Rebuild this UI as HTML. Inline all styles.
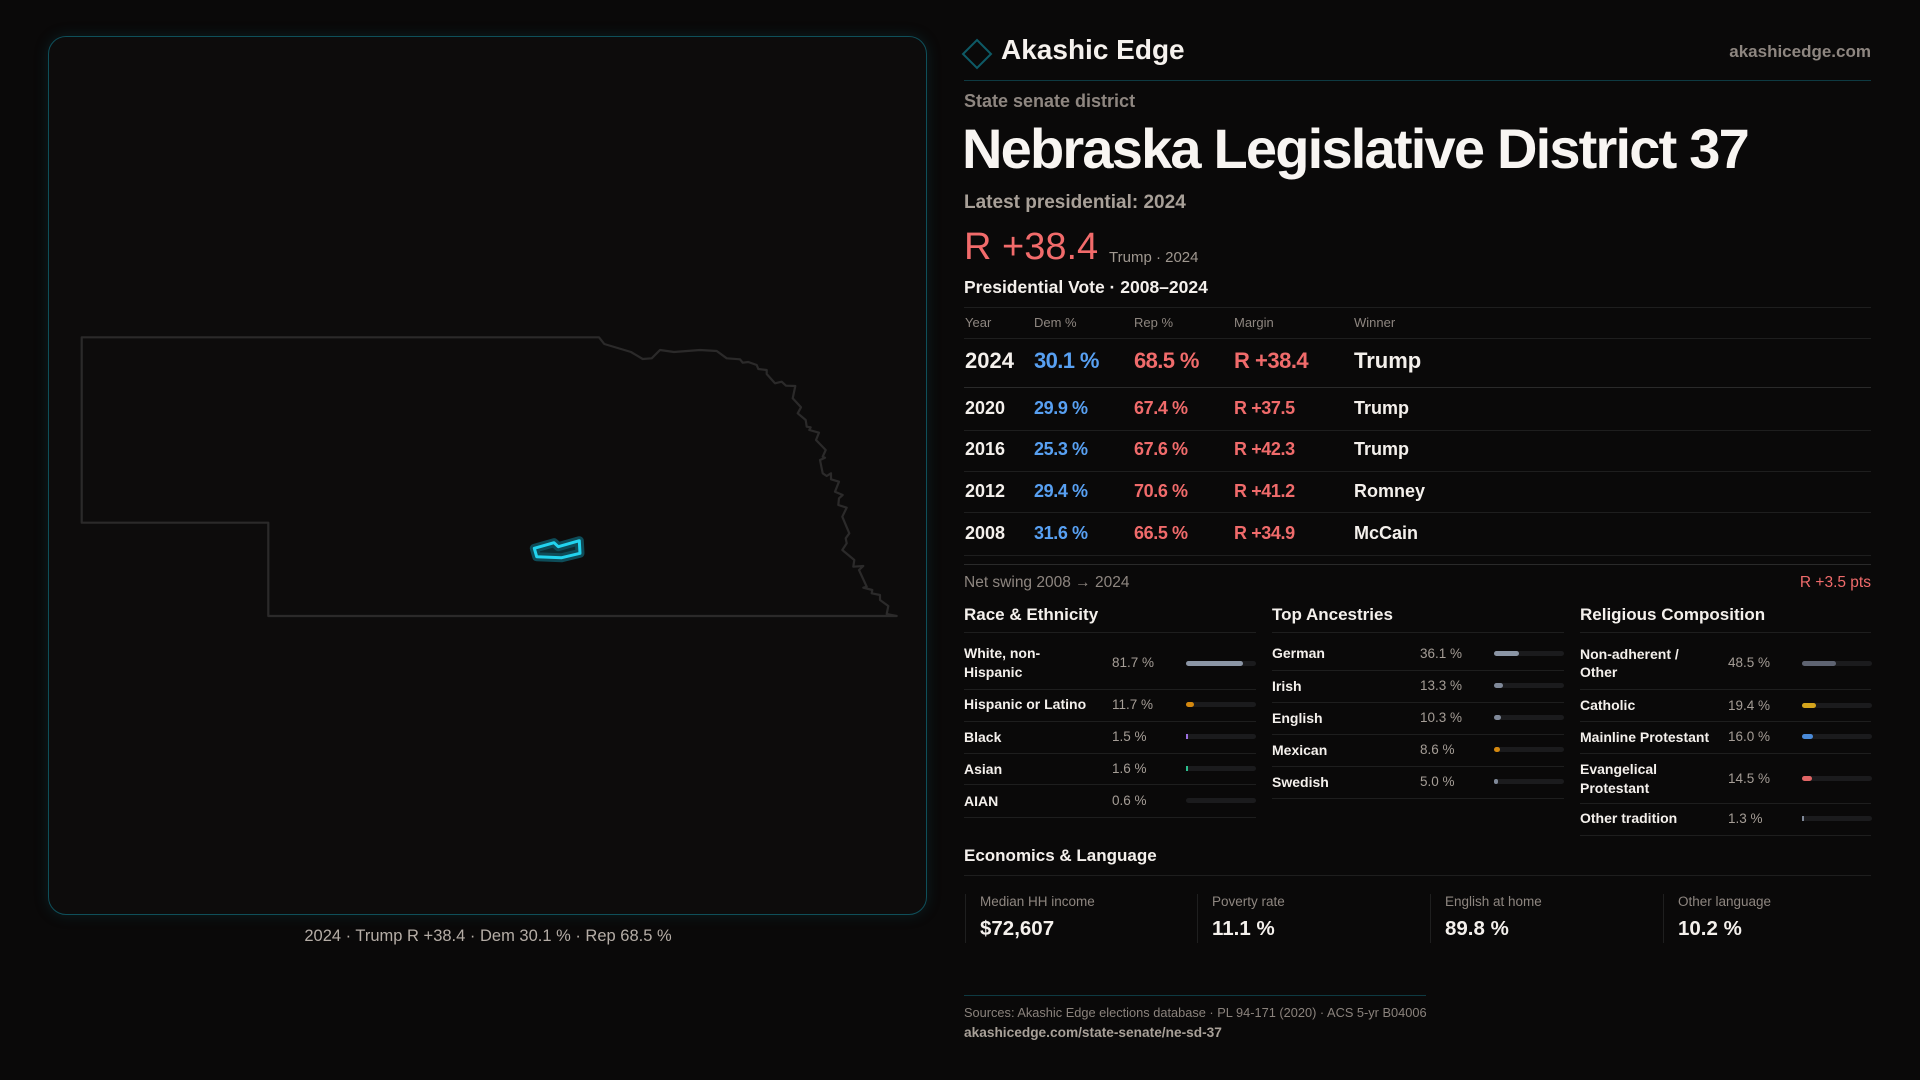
<!DOCTYPE html>
<html>
<head>
<meta charset="utf-8">
<style>
  html,body{margin:0;padding:0;}
  body{width:1920px;height:1080px;background:#0a0909;position:relative;overflow:hidden;font-family:"Liberation Sans",sans-serif;color:#f4f0ec;}
  .t{position:absolute;white-space:nowrap;line-height:1;}
  .b{font-weight:bold;}
  .g{color:#8e8680;}
  .v{color:#a59d96;}
  .red{color:#f06b6b;}
  .blue{color:#58a0f2;}
  .rule{position:absolute;height:1px;background:#1e1e1e;}
  .track{position:absolute;width:70px;height:5px;border-radius:3px;background:#1b1b1d;}
  .fill{position:absolute;left:0;top:0;height:5px;border-radius:3px;}
  .panel{position:absolute;left:48px;top:36px;width:877px;height:877px;border:1px solid #0f4f5a;border-radius:18px;background:#0d0c0c;box-shadow:0 0 14px rgba(16,90,105,0.25);}
  .box{position:absolute;top:894px;height:49px;width:1px;background:#1f1f1f;}
</style>
</head>
<body>

<div class="panel"></div>
<svg width="960" height="1080" style="position:absolute;left:0;top:0;">
  <path d="M81.7,337.3 L599,337.3 L604.3,344 L631,352 L642.7,359 L651.7,358.3 L660,350 L674,352 L700,350 L716.7,351 L726.7,358.3 L740,359.3 L742.7,362.7 L748.3,362 L756.7,365 L758.3,369 L766.7,370 L766.7,374 L775,383.3 L781.7,381.7 L786,385.7 L795.3,386 L792.7,398.3 L801,407.3 L797.7,413.3 L805.7,420 L806.7,426.7 L810.7,427.3 L809.3,430 L819,432.7 L816,440 L825.7,450 L822.7,456.7 L825,457.7 L820,460 L822.7,473.3 L826.7,476 L831,473.3 L831,479.3 L839,481.7 L835,491.7 L842.7,495 L839,498.3 L838.3,505 L846.7,507.7 L842.3,516.7 L849.3,533.3 L845.7,538.3 L846.7,543.3 L842.3,550 L854.3,560 L853.3,566.7 L863.3,566 L859,570 L866.7,586.7 L863.3,587.7 L872.3,590 L871.7,593.3 L880,595 L880,600 L888.3,606 L886.7,614 L896.7,616 L268.3,616 L268.3,522.7 L81.7,522.7 Z" fill="none" stroke="#2b2a2a" stroke-width="2.2" stroke-linejoin="round"/>
  <polygon points="534.3,548.3 536.7,556.7 561.7,557.7 580,553.3 579.3,540.7 558.3,546.7 554,542.7" fill="#0c2b31" stroke="#0e4c58" stroke-width="9" stroke-linejoin="round"/>
  <polygon points="534.3,548.3 536.7,556.7 561.7,557.7 580,553.3 579.3,540.7 558.3,546.7 554,542.7" fill="none" stroke="#22d3ee" stroke-width="3" stroke-linejoin="round"/>
</svg>
<div class="t" style="left:0;width:976px;text-align:center;top:928px;font-size:16.5px;color:#b5ada6;">2024 · Trump R +38.4 · Dem 30.1 % · Rep 68.5 %</div>

<!-- Header -->
<svg width="34" height="34" style="position:absolute;left:960px;top:37px;">
  <polygon points="17,3 31,17 17,31 3,17" fill="none" stroke="#0e5a66" stroke-width="2"/>
</svg>
<div class="t b" style="left:1001px;top:36px;font-size:28px;color:#f6f2ee;">Akashic Edge</div>
<div class="t b" style="right:49px;top:43px;font-size:17px;color:#8e8680;">akashicedge.com</div>
<div class="rule" style="left:964px;top:80px;width:907px;background:#0e3a42;"></div>

<div class="t b g" style="left:964px;top:92px;font-size:18px;">State senate district</div>
<div class="t b" style="left:962px;top:121px;font-size:56px;letter-spacing:-1.8px;color:#f8f5f2;">Nebraska Legislative District 37</div>
<div class="t b" style="left:964px;top:193px;font-size:19px;color:#a8a098;">Latest presidential: 2024</div>
<div class="t red" style="left:964px;top:228px;font-size:38px;color:#f26b6b;">R +38.4</div>
<div class="t" style="left:1109px;top:250px;font-size:15px;color:#a09890;">Trump · 2024</div>
<div class="t b" style="left:964px;top:279px;font-size:17.5px;">Presidential Vote · 2008–2024</div>
<div class="rule" style="left:964px;top:307px;width:907px;"></div>

<!-- Table -->
<div class="t g" style="left:965px;top:316px;font-size:13px;">Year</div>
<div class="t g" style="left:1034px;top:316px;font-size:13px;">Dem %</div>
<div class="t g" style="left:1134px;top:316px;font-size:13px;">Rep %</div>
<div class="t g" style="left:1234px;top:316px;font-size:13px;">Margin</div>
<div class="t g" style="left:1354px;top:316px;font-size:13px;">Winner</div>
<div class="rule" style="left:964px;top:338px;width:907px;"></div>

<div class="t b" style="left:965px;top:350px;font-size:22px;">2024</div>
<div class="t b blue" style="left:1034px;top:350px;font-size:22px;letter-spacing:-0.6px;">30.1 %</div>
<div class="t b red" style="left:1134px;top:350px;font-size:22px;letter-spacing:-0.6px;">68.5 %</div>
<div class="t b red" style="left:1234px;top:350px;font-size:22px;letter-spacing:-0.5px;">R +38.4</div>
<div class="t b" style="left:1354px;top:350px;font-size:22px;">Trump</div>
<div class="rule" style="left:964px;top:387px;width:907px;background:#2a2a2a;"></div>

<div class="t b" style="left:965px;top:399px;font-size:18px;">2020</div>
<div class="t b blue" style="left:1034px;top:399px;font-size:18px;letter-spacing:-0.4px;">29.9 %</div>
<div class="t b red" style="left:1134px;top:399px;font-size:18px;letter-spacing:-0.4px;">67.4 %</div>
<div class="t b red" style="left:1234px;top:399px;font-size:18px;letter-spacing:-0.4px;">R +37.5</div>
<div class="t b" style="left:1354px;top:399px;font-size:18px;">Trump</div>
<div class="rule" style="left:964px;top:430px;width:907px;"></div>

<div class="t b" style="left:965px;top:440px;font-size:18px;">2016</div>
<div class="t b blue" style="left:1034px;top:440px;font-size:18px;letter-spacing:-0.4px;">25.3 %</div>
<div class="t b red" style="left:1134px;top:440px;font-size:18px;letter-spacing:-0.4px;">67.6 %</div>
<div class="t b red" style="left:1234px;top:440px;font-size:18px;letter-spacing:-0.4px;">R +42.3</div>
<div class="t b" style="left:1354px;top:440px;font-size:18px;">Trump</div>
<div class="rule" style="left:964px;top:471px;width:907px;"></div>

<div class="t b" style="left:965px;top:482px;font-size:18px;">2012</div>
<div class="t b blue" style="left:1034px;top:482px;font-size:18px;letter-spacing:-0.4px;">29.4 %</div>
<div class="t b red" style="left:1134px;top:482px;font-size:18px;letter-spacing:-0.4px;">70.6 %</div>
<div class="t b red" style="left:1234px;top:482px;font-size:18px;letter-spacing:-0.4px;">R +41.2</div>
<div class="t b" style="left:1354px;top:482px;font-size:18px;">Romney</div>
<div class="rule" style="left:964px;top:512px;width:907px;"></div>

<div class="t b" style="left:965px;top:524px;font-size:18px;">2008</div>
<div class="t b blue" style="left:1034px;top:524px;font-size:18px;letter-spacing:-0.4px;">31.6 %</div>
<div class="t b red" style="left:1134px;top:524px;font-size:18px;letter-spacing:-0.4px;">66.5 %</div>
<div class="t b red" style="left:1234px;top:524px;font-size:18px;letter-spacing:-0.4px;">R +34.9</div>
<div class="t b" style="left:1354px;top:524px;font-size:18px;">McCain</div>
<div class="rule" style="left:964px;top:555px;width:907px;"></div>
<div class="rule" style="left:964px;top:564px;width:907px;background:#2a2a2a;"></div>

<div class="t g" style="left:964px;top:575px;font-size:15.5px;">Net swing 2008 → 2024</div>
<div class="t red" style="right:49px;top:575px;font-size:15.5px;">R +3.5 pts</div>

<!-- Race & Ethnicity -->
<div class="t b" style="left:964px;top:606px;font-size:17px;">Race &amp; Ethnicity</div>
<div class="rule" style="left:964px;top:632px;width:292px;"></div>
<div class="t b" style="left:964px;top:646px;font-size:14px;">White, non-</div>
<div class="t b" style="left:964px;top:665px;font-size:14px;">Hispanic</div>
<div class="t v" style="left:1112px;top:656px;font-size:13.5px;">81.7 %</div>
<div class="track" style="left:1186px;top:661px;"><div class="fill" style="width:57px;background:#8b95a5;"></div></div>
<div class="rule" style="left:964px;top:689px;width:292px;"></div>
<div class="t b" style="left:964px;top:697px;font-size:14px;">Hispanic or Latino</div>
<div class="t v" style="left:1112px;top:698px;font-size:13.5px;">11.7 %</div>
<div class="track" style="left:1186px;top:702px;"><div class="fill" style="width:8px;background:#d4880f;"></div></div>
<div class="rule" style="left:964px;top:721px;width:292px;"></div>
<div class="t b" style="left:964px;top:730px;font-size:14px;">Black</div>
<div class="t v" style="left:1112px;top:730px;font-size:13.5px;">1.5 %</div>
<div class="track" style="left:1186px;top:734px;"><div class="fill" style="width:2px;border-radius:0;background:#9b6fe0;"></div></div>
<div class="rule" style="left:964px;top:753px;width:292px;"></div>
<div class="t b" style="left:964px;top:762px;font-size:14px;">Asian</div>
<div class="t v" style="left:1112px;top:762px;font-size:13.5px;">1.6 %</div>
<div class="track" style="left:1186px;top:766px;"><div class="fill" style="width:2px;border-radius:0;background:#2bc08e;"></div></div>
<div class="rule" style="left:964px;top:784px;width:292px;"></div>
<div class="t b" style="left:964px;top:794px;font-size:14px;">AIAN</div>
<div class="t v" style="left:1112px;top:794px;font-size:13.5px;">0.6 %</div>
<div class="track" style="left:1186px;top:798px;"></div>
<div class="rule" style="left:964px;top:817px;width:292px;"></div>

<!-- Top Ancestries -->
<div class="t b" style="left:1272px;top:606px;font-size:17px;">Top Ancestries</div>
<div class="rule" style="left:1272px;top:632px;width:292px;"></div>
<div class="t b" style="left:1272px;top:646px;font-size:14px;">German</div>
<div class="t v" style="left:1420px;top:647px;font-size:13.5px;">36.1 %</div>
<div class="track" style="left:1494px;top:651px;"><div class="fill" style="width:25px;background:#8b95a5;"></div></div>
<div class="rule" style="left:1272px;top:670px;width:292px;"></div>
<div class="t b" style="left:1272px;top:679px;font-size:14px;">Irish</div>
<div class="t v" style="left:1420px;top:679px;font-size:13.5px;">13.3 %</div>
<div class="track" style="left:1494px;top:683px;"><div class="fill" style="width:9px;background:#7f8898;"></div></div>
<div class="rule" style="left:1272px;top:702px;width:292px;"></div>
<div class="t b" style="left:1272px;top:711px;font-size:14px;">English</div>
<div class="t v" style="left:1420px;top:711px;font-size:13.5px;">10.3 %</div>
<div class="track" style="left:1494px;top:715px;"><div class="fill" style="width:7px;background:#7f8898;"></div></div>
<div class="rule" style="left:1272px;top:734px;width:292px;"></div>
<div class="t b" style="left:1272px;top:743px;font-size:14px;">Mexican</div>
<div class="t v" style="left:1420px;top:743px;font-size:13.5px;">8.6 %</div>
<div class="track" style="left:1494px;top:747px;"><div class="fill" style="width:6px;background:#d4880f;"></div></div>
<div class="rule" style="left:1272px;top:766px;width:292px;"></div>
<div class="t b" style="left:1272px;top:775px;font-size:14px;">Swedish</div>
<div class="t v" style="left:1420px;top:775px;font-size:13.5px;">5.0 %</div>
<div class="track" style="left:1494px;top:779px;"><div class="fill" style="width:4px;background:#7f8898;"></div></div>
<div class="rule" style="left:1272px;top:798px;width:292px;"></div>

<!-- Religious Composition -->
<div class="t b" style="left:1580px;top:606px;font-size:17px;">Religious Composition</div>
<div class="rule" style="left:1580px;top:632px;width:291px;"></div>
<div class="t b" style="left:1580px;top:647px;font-size:14px;">Non-adherent /</div>
<div class="t b" style="left:1580px;top:665px;font-size:14px;">Other</div>
<div class="t v" style="left:1728px;top:656px;font-size:13.5px;">48.5 %</div>
<div class="track" style="left:1802px;top:661px;"><div class="fill" style="width:34px;background:#5e6371;"></div></div>
<div class="rule" style="left:1580px;top:689px;width:291px;"></div>
<div class="t b" style="left:1580px;top:698px;font-size:14px;">Catholic</div>
<div class="t v" style="left:1728px;top:699px;font-size:13.5px;">19.4 %</div>
<div class="track" style="left:1802px;top:703px;"><div class="fill" style="width:14px;background:#d4a41c;"></div></div>
<div class="rule" style="left:1580px;top:721px;width:291px;"></div>
<div class="t b" style="left:1580px;top:730px;font-size:14px;">Mainline Protestant</div>
<div class="t v" style="left:1728px;top:730px;font-size:13.5px;">16.0 %</div>
<div class="track" style="left:1802px;top:734px;"><div class="fill" style="width:11px;background:#4a8ad8;"></div></div>
<div class="rule" style="left:1580px;top:753px;width:291px;"></div>
<div class="t b" style="left:1580px;top:762px;font-size:14px;">Evangelical</div>
<div class="t b" style="left:1580px;top:781px;font-size:14px;">Protestant</div>
<div class="t v" style="left:1728px;top:772px;font-size:13.5px;">14.5 %</div>
<div class="track" style="left:1802px;top:776px;"><div class="fill" style="width:10px;background:#e06565;"></div></div>
<div class="rule" style="left:1580px;top:803px;width:291px;"></div>
<div class="t b" style="left:1580px;top:811px;font-size:14px;">Other tradition</div>
<div class="t v" style="left:1728px;top:812px;font-size:13.5px;">1.3 %</div>
<div class="track" style="left:1802px;top:816px;"><div class="fill" style="width:1.5px;border-radius:0;background:#7f8898;"></div></div>
<div class="rule" style="left:1580px;top:835px;width:291px;"></div>

<!-- Economics & Language -->
<div class="t b" style="left:964px;top:847px;font-size:17px;">Economics &amp; Language</div>
<div class="rule" style="left:964px;top:875px;width:907px;"></div>

<div class="box" style="left:965px;"></div>
<div class="t g" style="left:980px;top:895px;font-size:13.5px;">Median HH income</div>
<div class="t b" style="left:980px;top:919px;font-size:20.5px;">$72,607</div>

<div class="box" style="left:1197px;"></div>
<div class="t g" style="left:1212px;top:895px;font-size:13.5px;">Poverty rate</div>
<div class="t b" style="left:1212px;top:919px;font-size:20.5px;">11.1 %</div>

<div class="box" style="left:1430px;"></div>
<div class="t g" style="left:1445px;top:895px;font-size:13.5px;">English at home</div>
<div class="t b" style="left:1445px;top:919px;font-size:20.5px;">89.8 %</div>

<div class="box" style="left:1663px;"></div>
<div class="t g" style="left:1678px;top:895px;font-size:13.5px;">Other language</div>
<div class="t b" style="left:1678px;top:919px;font-size:20.5px;">10.2 %</div>

<!-- Footer -->
<div class="rule" style="left:964px;top:995px;width:462px;background:#0e3a42;"></div>
<div class="t" style="left:964px;top:1007px;font-size:12.8px;color:#8a827c;">Sources: Akashic Edge elections database · PL 94-171 (2020) · ACS 5-yr B04006</div>
<div class="t b" style="left:964px;top:1026px;font-size:13.7px;color:#a8a098;">akashicedge.com/state-senate/ne-sd-37</div>

</body>
</html>
